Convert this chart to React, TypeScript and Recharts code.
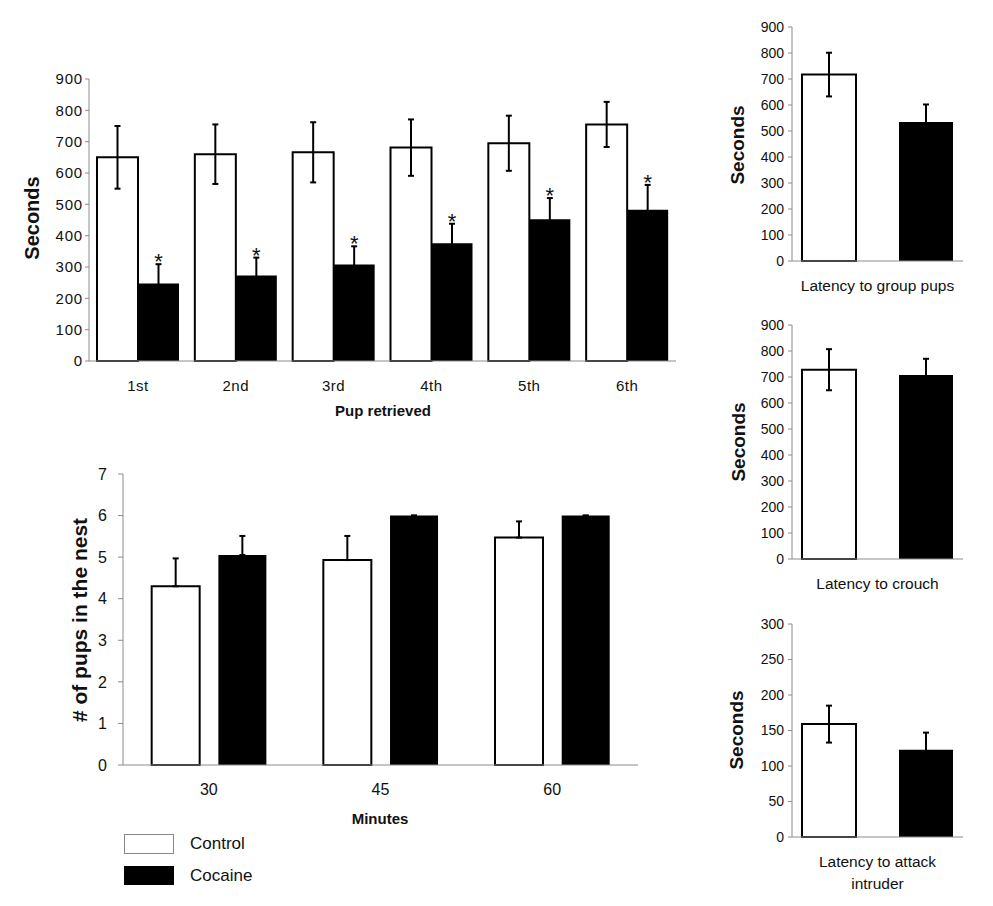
import { Bar, BarChart, ErrorBar, LabelList, XAxis, YAxis } from "recharts";

const FONT = "'Liberation Sans', Arial, sans-serif";
const AXIS = "#8c8c8c";
const INK = "#111";

// pup retrieval latency (seconds)
const pupOrder = ["1st", "2nd", "3rd", "4th", "5th", "6th"];
const retrievalControl = [650, 660, 666, 681, 695, 755];
const retrievalControlErr = [100, 95, 96, 90, 88, 72];
const retrievalCocaine = [247, 273, 308, 376, 452, 483];
const retrievalCocaineErr = [62, 57, 58, 62, 68, 79];
const secondsTicks = [0, 100, 200, 300, 400, 500, 600, 700, 800, 900];

// pups in the nest
const minutes = ["30", "45", "60"];
const nestControl = [4.3, 4.93, 5.47];
const nestControlErr = [0.67, 0.58, 0.39];
const nestCocaine = [5.05, 6, 6];
const nestCocaineErr = [0.46, 0, 0];
const nestTicks = [0, 1, 2, 3, 4, 5, 6, 7];

// single measures
const groupLabel = ["Latency to group pups"];
const groupValues = [717, 535];
const groupErr = [84, 67];
const crouchLabel = ["Latency to crouch"];
const crouchValues = [728, 708];
const crouchErr = [79, 62];
const attackLabel = ["Latency to attack\nintruder"];
const attackValues = [159, 123];
const attackErr = [26, 24];
const attackTicks = [0, 50, 100, 150, 200, 250, 300];

const retrievalData = pupOrder.map((pup, i) => ({
  pup,
  control: retrievalControl[i],
  controlErr: retrievalControlErr[i],
  cocaine: retrievalCocaine[i],
  cocaineErr: retrievalCocaineErr[i],
}));

const nestData = minutes.map((m, i) => ({
  m,
  control: nestControl[i],
  controlErr: [0, nestControlErr[i]],
  cocaine: nestCocaine[i],
  cocaineErr: [0, nestCocaineErr[i]],
}));

const single = (label: string[], v: number[], e: number[]) => [
  { name: label[0], control: v[0], controlErr: e[0], cocaine: v[1], cocaineErr: e[1] },
];

function Star(props: any) {
  const vb = props.viewBox ?? {};
  const x = props.x ?? vb.x;
  const y = props.y ?? vb.y;
  const width = props.width ?? vb.width;
  const height = props.height ?? vb.height;
  const value = Number(props.value);
  const err = retrievalCocaineErr[props.index];
  const capY = y - (err * height) / value;
  return (
    <text x={x + width / 2} y={capY + 5} textAnchor="middle" fontSize={22} fontFamily={FONT} fill={INK}>
      *
    </text>
  );
}

function CategoryTick(props: any) {
  const { x, y, payload } = props;
  const lines = String(payload.value).split("\n");
  return (
    <text x={x} y={y} textAnchor="middle" fontSize={15.5} fill={INK} fontFamily={FONT}>
      {lines.map((l, i) => (
        <tspan key={i} x={x} dy={i === 0 ? "0.71em" : 21.6}>
          {l}
        </tspan>
      ))}
    </text>
  );
}

function VLabel({ text, cx, cy, size }: { text: string; cx: number; cy: number; size: number }) {
  return (
    <div
      style={{
        position: "absolute",
        left: cx,
        top: cy,
        transform: "translate(-50%, -50%) rotate(-90deg)",
        whiteSpace: "nowrap",
        fontFamily: FONT,
        fontWeight: "bold",
        fontSize: size,
        color: INK,
      }}
    >
      {text}
    </div>
  );
}

function HLabel({ text, cx, cy, size, bold }: { text: string; cx: number; cy: number; size: number; bold?: boolean }) {
  return (
    <div
      style={{
        position: "absolute",
        left: cx,
        top: cy,
        transform: "translate(-50%, -50%)",
        whiteSpace: "nowrap",
        fontFamily: FONT,
        fontWeight: bold ? "bold" : "normal",
        fontSize: size,
        color: INK,
      }}
    >
      {text}
    </div>
  );
}

function SmallChart({
  top,
  height,
  mTop,
  mBottom,
  xHeight,
  data,
  ticks,
}: {
  top: number;
  height: number;
  mTop: number;
  mBottom: number;
  xHeight: number;
  data: any[];
  ticks: number[];
}) {
  return (
    <div style={{ position: "absolute", left: 690, top }}>
      <BarChart
        width={300}
        height={height}
        data={data}
        margin={{ top: mTop, right: 27, bottom: mBottom, left: 41 }}
        barGap={43}
        barSize={54}
      >
        <XAxis
          dataKey="name"
          axisLine={{ stroke: AXIS }}
          tickLine={false}
          tick={<CategoryTick />}
          tickMargin={13}
          height={xHeight}
          interval={0}
        />
        <YAxis
          domain={[ticks[0], ticks[ticks.length - 1]]}
          ticks={ticks}
          interval={0}
          width={61}
          axisLine={{ stroke: AXIS }}
          tickLine={{ stroke: AXIS }}
          tickSize={4}
          tickMargin={4}
          tick={{ fontSize: 14, fill: INK, fontFamily: FONT }}
        />
        <Bar dataKey="control" fill="#fff" stroke="#000" strokeWidth={2} isAnimationActive={false}>
          <ErrorBar dataKey="controlErr" width={3} stroke="#000" strokeWidth={2} />
        </Bar>
        <Bar dataKey="cocaine" fill="#000" isAnimationActive={false}>
          <ErrorBar dataKey="cocaineErr" width={3} stroke="#000" strokeWidth={2} />
        </Bar>
      </BarChart>
    </div>
  );
}

export default function App() {
  return (
    <div style={{ position: "absolute", left: 0, top: 0, width: 993, height: 906, background: "#fff" }}>
      {/* pup retrieval */}
      <div style={{ position: "absolute", left: 0, top: 0 }}>
        <BarChart
          width={700}
          height={430}
          data={retrievalData}
          margin={{ top: 79, right: 24, bottom: 19, left: 39 }}
          barGap={0}
          barSize={41}
        >
          <XAxis
            dataKey="pup"
            axisLine={{ stroke: AXIS }}
            tickLine={false}
            tick={{ fontSize: 15, fill: INK, fontFamily: FONT, letterSpacing: 0.5 }}
            tickMargin={13}
            height={50}
            interval={0}
          />
          <YAxis
            domain={[0, 900]}
            ticks={secondsTicks}
            interval={0}
            width={50}
            axisLine={{ stroke: AXIS }}
            tickLine={{ stroke: AXIS }}
            tickSize={4}
            tickMargin={2}
            tick={{ fontSize: 15, fill: INK, fontFamily: FONT, letterSpacing: 0.8 }}
          />
          <Bar dataKey="control" fill="#fff" stroke="#000" strokeWidth={2} isAnimationActive={false}>
            <ErrorBar dataKey="controlErr" width={3} stroke="#000" strokeWidth={2} />
          </Bar>
          <Bar dataKey="cocaine" fill="#000" isAnimationActive={false}>
            <ErrorBar dataKey="cocaineErr" width={3} stroke="#000" strokeWidth={2} />
            <LabelList dataKey="cocaine" content={<Star />} />
          </Bar>
        </BarChart>
      </div>
      <VLabel text="Seconds" cx={32} cy={218} size={20} />
      <HLabel text="Pup retrieved" cx={383} cy={410} size={15} bold />

      {/* pups in the nest */}
      <div style={{ position: "absolute", left: 0, top: 460 }}>
        <BarChart
          width={680}
          height={380}
          data={nestData}
          margin={{ top: 14, right: 42, bottom: 35, left: 57 }}
          barGap={18.7}
          barCategoryGap="16.7%"
        >
          <XAxis
            dataKey="m"
            axisLine={{ stroke: AXIS }}
            tickLine={false}
            tick={{ fontSize: 16, fill: INK, fontFamily: FONT }}
            tickMargin={13}
            height={40}
            interval={0}
          />
          <YAxis
            domain={[0, 7]}
            ticks={nestTicks}
            interval={0}
            width={66}
            axisLine={{ stroke: AXIS }}
            tickLine={{ stroke: AXIS }}
            tickSize={5}
            tickMargin={11}
            tick={{ fontSize: 16, fill: INK, fontFamily: FONT }}
          />
          <Bar dataKey="control" fill="#fff" stroke="#000" strokeWidth={2} isAnimationActive={false}>
            <ErrorBar dataKey="controlErr" width={3} stroke="#000" strokeWidth={2} />
          </Bar>
          <Bar dataKey="cocaine" fill="#000" isAnimationActive={false}>
            <ErrorBar dataKey="cocaineErr" width={3} stroke="#000" strokeWidth={2} />
          </Bar>
        </BarChart>
      </div>
      <VLabel text="# of pups in the nest" cx={80} cy={620} size={21} />
      <HLabel text="Minutes" cx={380} cy={818} size={15} bold />

      {/* legend */}
      <div
        style={{
          position: "absolute",
          left: 124,
          top: 834,
          width: 48,
          height: 18,
          border: "1px solid #888",
          background: "#fff",
        }}
      />
      <div style={{ position: "absolute", left: 124, top: 866, width: 50, height: 19, background: "#000" }} />
      <div style={{ position: "absolute", left: 190, top: 834, fontFamily: FONT, fontSize: 17, color: INK }}>Control</div>
      <div style={{ position: "absolute", left: 190, top: 866, fontFamily: FONT, fontSize: 17, color: INK }}>Cocaine</div>

      {/* single measures */}
      <SmallChart top={0} height={300} mTop={27} mBottom={9} xHeight={30} data={single(groupLabel, groupValues, groupErr)} ticks={secondsTicks} />
      <VLabel text="Seconds" cx={738} cy={145} size={19} />
      <SmallChart top={300} height={300} mTop={25} mBottom={11} xHeight={30} data={single(crouchLabel, crouchValues, crouchErr)} ticks={secondsTicks} />
      <VLabel text="Seconds" cx={739} cy={442} size={19} />
      <SmallChart top={600} height={306} mTop={24} mBottom={9} xHeight={60} data={single(attackLabel, attackValues, attackErr)} ticks={attackTicks} />
      <VLabel text="Seconds" cx={737} cy={730} size={19} />
    </div>
  );
}
